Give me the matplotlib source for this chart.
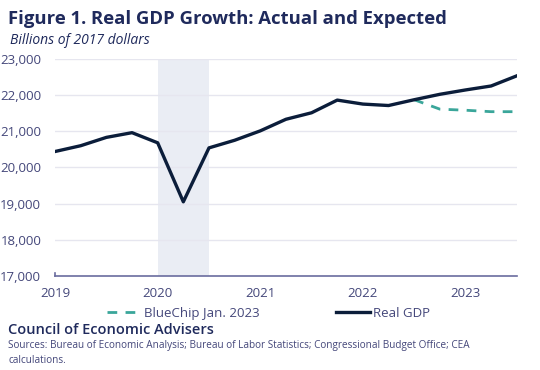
import matplotlib
matplotlib.use("Agg")
import matplotlib.pyplot as plt

# quarterly dates (decimal years) and values, billions of 2017 dollars
quarters = [2019.0, 2019.25, 2019.5, 2019.75, 2020.0, 2020.25, 2020.5, 2020.75,
            2021.0, 2021.25, 2021.5, 2021.75, 2022.0, 2022.25, 2022.5, 2022.75,
            2023.0, 2023.25, 2023.5]
real_gdp = [20440, 20600, 20830, 20960, 20680, 19050, 20540, 20750,
            21010, 21330, 21510, 21860, 21750, 21710, 21870, 22020,
            22140, 22250, 22530]

bluechip_quarters = [2022.5, 2022.75, 2023.0, 2023.25, 2023.5]
bluechip = [21870, 21610, 21580, 21540, 21540]

recession = (2020.0, 2020.5)
year_ticks = [2019, 2020, 2021, 2022, 2023]
y_ticks = [17000, 18000, 19000, 20000, 21000, 22000, 23000]

navy = "#0b1d3a"
teal = "#3aa69a"
title_col = "#1f2a5c"
label_col = "#44477a"

plt.rcParams['font.family'] = ['Open Sans', 'DejaVu Sans']

fig = plt.figure(figsize=(5.4, 3.7), dpi=100)
ax = fig.add_axes([0.102, 0.254, 0.855, 0.587])

ax.axvspan(recession[0], recession[1], color="#eaedf4", lw=0, zorder=0)
for y in y_ticks[1:]:
    ax.axhline(y, color="#e6e6ef", lw=1, zorder=1)

ax.plot(bluechip_quarters, bluechip, color=teal, lw=2, ls=(0, (3.5, 3)),
        label="BlueChip Jan. 2023", zorder=2)
ax.plot(quarters, real_gdp, color=navy, lw=2.4, label="Real GDP", zorder=3)

ax.set_xlim(2019, 2023.5)
ax.set_ylim(17000, 23000)
ax.set_xticks(year_ticks)
ax.set_xticklabels([str(y) for y in year_ticks])
ax.set_yticks(y_ticks)
ax.set_yticklabels([f"{y:,}" for y in y_ticks])
ax.tick_params(axis="both", colors=label_col, labelsize=9.5, length=0)
ax.tick_params(axis="x", pad=8)
ax.tick_params(axis="y", pad=10)
for s in ["top", "right", "left"]:
    ax.spines[s].set_visible(False)
ax.spines["bottom"].set_color("#6a6c9e")
ax.spines["bottom"].set_linewidth(1.2)
ax.plot([2019, 2019], [17000, 17080], color="#6a6c9e", lw=1.2, clip_on=False)

fig.legend(loc="center left", bbox_to_anchor=(0.188, 0.153), ncol=2, frameon=False,
           fontsize=9.5, handlelength=2.6, handletextpad=0.2, columnspacing=5.8,
           labelcolor=label_col, borderaxespad=0)

fig.text(0.015, 0.95, "Figure 1. Real GDP Growth: Actual and Expected",
         fontsize=13.3, fontweight="bold", color=title_col, va="center")
fig.text(0.018, 0.89, "Billions of 2017 dollars", fontsize=10, style="italic",
         color=title_col, va="center")
fig.text(0.015, 0.108, "Council of Economic Advisers", fontsize=10.5,
         fontweight="semibold", color=title_col, va="center")
fig.text(0.015, 0.065, "Sources: Bureau of Economic Analysis; Bureau of Labor Statistics; "
         "Congressional Budget Office; CEA", fontsize=7.2, color=label_col, va="center")
fig.text(0.015, 0.025, "calculations.", fontsize=7.2, color=label_col, va="center")

fig.savefig("out.png", dpi=100)
